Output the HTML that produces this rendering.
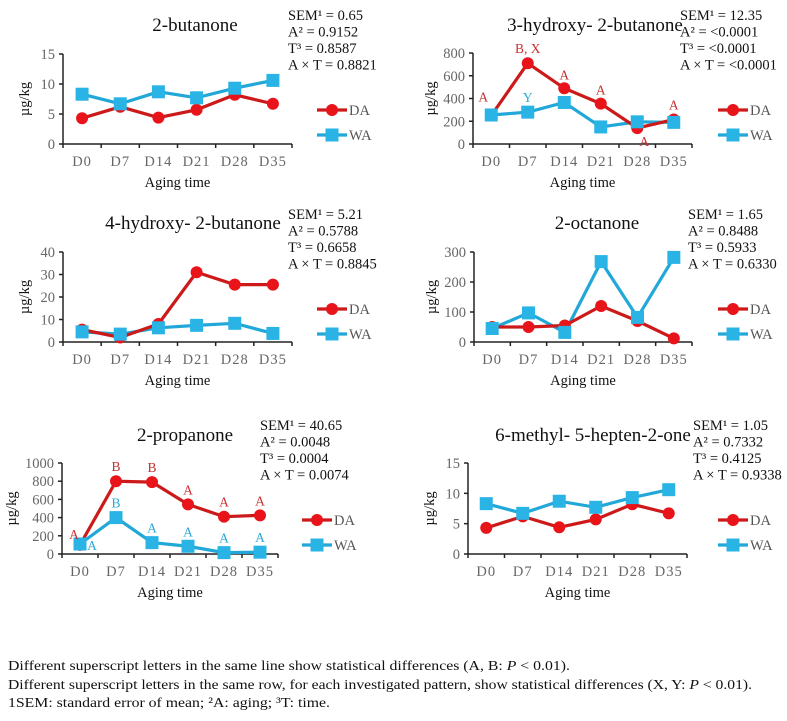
<!DOCTYPE html>
<html><head><meta charset="utf-8"><style>
body{margin:0;background:#fff;width:787px;height:721px;overflow:hidden}
svg{display:block;font-family:"Liberation Serif",serif}
</style></head><body>
<svg id="chart" width="787" height="721" viewBox="0 0 787 721">
<g id="panels"></g>
<g font-size="14" fill="#111">
<text x="8" y="670" textLength="562" lengthAdjust="spacingAndGlyphs">Different superscript letters in the same line show statistical differences (A, B: <tspan font-style="italic">P</tspan> &lt; 0.01).</text>
<text x="8" y="689" textLength="744" lengthAdjust="spacingAndGlyphs">Different superscript letters in the same row, for each investigated pattern, show statistical differences (X, Y: <tspan font-style="italic">P</tspan> &lt; 0.01).</text>
<text x="8" y="707" textLength="322" lengthAdjust="spacingAndGlyphs">1SEM: standard error of mean; ²A: aging; ³T: time.</text>
</g>
</svg>
<script>
const categories = ["D0","D7","D14","D21","D28","D35"];
const p1DA = [4.3,6.2,4.4,5.7,8.2,6.7];
const p1WA = [8.3,6.7,8.7,7.7,9.3,10.6];
const p2DA = [250,710,490,355,140,215];
const p2WA = [255,280,365,150,195,190];
const p3DA = [5.5,2,8,31,25.5,25.5];
const p3WA = [4.5,3.5,6.3,7.4,8.3,3.8];
const p4DA = [50,50,55,120,70,12];
const p4WA = [45,97,32,268,82,282];
const p5DA = [100,800,790,545,410,425];
const p5WA = [110,400,125,85,15,20];
const p6DA = [4.3,6.2,4.4,5.7,8.2,6.7];
const p6WA = [8.3,6.7,8.7,7.7,9.3,10.6];
const ticks15 = [0,5,10,15];
const ticks800 = [0,200,400,600,800];
const ticks40 = [0,10,20,30,40];
const ticks300 = [0,100,200,300];
const ticks1000 = [0,200,400,600,800,1000];
const stats1 = ["SEM¹ = 0.65","A² = 0.9152","T³ = 0.8587","A × T = 0.8821"];
const stats2 = ["SEM¹ = 12.35","A² = <0.0001","T³ = <0.0001","A × T = <0.0001"];
const stats3 = ["SEM¹ = 5.21","A² = 0.5788","T³ = 0.6658","A × T = 0.8845"];
const stats4 = ["SEM¹ = 1.65","A² = 0.8488","T³ = 0.5933","A × T = 0.6330"];
const stats5 = ["SEM¹ = 40.65","A² = 0.0048","T³ = 0.0004","A × T = 0.0074"];
const stats6 = ["SEM¹ = 1.05","A² = 0.7332","T³ = 0.4125","A × T = 0.9338"];
const letters2DA = ["A","B, X","A","A","A","A"];
const letters2WA = ["","Y","","","",""];
const letters5DA = ["A","B","B","A","A","A"];
const letters5WA = ["A","B","A","A","A","A"];

const NS="http://www.w3.org/2000/svg";
const root=document.getElementById('panels');
function mk(tag,attrs,parent,text){const e=document.createElementNS(NS,tag);for(const k in attrs)e.setAttribute(k,attrs[k]);if(text!==undefined)e.textContent=text;parent.appendChild(e);return e;}
const RED="#cc1a1a", REDM="#e8141a", BLUE="#22a8d8", BLUEM="#2ab4e6";

function panel(cfg){
  const g=mk('g',{},root);
  
  
  const xL=cfg.x0,xR=cfg.x1,yT=cfg.yTop,yB=cfg.yBot,ymax=cfg.ticks[cfg.ticks.length-1];
  const step=(xR-xL)/categories.length;
  const xs=i=>xL+step*(i+0.5);
  const ys=v=>yB-(v/ymax)*(yB-yT);
  const t=mk('text',{x:cfg.tx,y:cfg.ty,'font-size':19,'text-anchor':'middle',fill:'#111'},g,cfg.title);
  
  
  cfg.stats.forEach((s,i)=>{const e=mk('text',{x:cfg.sx,y:cfg.sy+i*16.5,'font-size':14.5,fill:'#111'},g,s);
    
    });
  const ax=mk('g',{stroke:'#222','stroke-width':1.5},g);
  
  
  mk('line',{x1:xL,y1:yT,x2:xL,y2:yB},ax);
  mk('line',{x1:xL,y1:yB,x2:xR,y2:yB},ax);
  cfg.ticks.forEach(v=>{mk('line',{x1:xL-4,y1:ys(v),x2:xL,y2:ys(v)},ax);
    const e=mk('text',{x:xL-8,y:ys(v)+5,'font-size':14.5,'text-anchor':'end',fill:'#666',stroke:'none'},g,String(v));
    
    });
  for(let i=0;i<=categories.length;i++){mk('line',{x1:xL+step*i,y1:yB,x2:xL+step*i,y2:yB+4},ax);}
  categories.forEach((c,i)=>{const e=mk('text',{x:xs(i),y:cfg.lblY,'font-size':14.5,'text-anchor':'middle',fill:'#666','letter-spacing':'1'},g,c);
    
    });
  const xt=mk('text',{x:(xL+xR)/2,y:cfg.lblY+21,'font-size':14.5,'text-anchor':'middle',fill:'#111'},g,'Aging time');
  
  
  const yto=cfg.yto||34;
  const yt=mk('text',{x:0,y:0,'font-size':14.5,'text-anchor':'middle',fill:'#111',transform:`translate(${xL-yto},${(yT+yB)/2}) rotate(-90)`},g,'µg/kg');
  
  
  const wa=mk('polyline',{points:cfg.wa.map((v,i)=>xs(i)+','+ys(v)).join(' '),fill:'none',stroke:BLUE,'stroke-width':3.2},g);
  
  
  const da=mk('polyline',{points:cfg.da.map((v,i)=>xs(i)+','+ys(v)).join(' '),fill:'none',stroke:RED,'stroke-width':3.2},g);
  
  
  cfg.da.forEach((v,i)=>{const c=mk('circle',{cx:xs(i),cy:ys(v),r:6,fill:REDM},g);
    
    });
  cfg.wa.forEach((v,i)=>{const r=mk('rect',{x:xs(i)-6.5,y:ys(v)-6.5,width:13,height:13,fill:BLUEM},g);
    
    });
  if(cfg.ldaLetters){cfg.ldaLetters.forEach((l,i)=>{if(!l)return;const off=cfg.ldaOff?cfg.ldaOff[i]:[0,-9];
    const e=mk('text',{x:xs(i)+off[0],y:ys(cfg.da[i])+off[1],'font-size':13.5,'text-anchor':'middle',fill:'#c83030'},g,l);
    
    });}
  if(cfg.lwaLetters){cfg.lwaLetters.forEach((l,i)=>{if(!l)return;const off=cfg.lwaOff?cfg.lwaOff[i]:[0,-10];
    const e=mk('text',{x:xs(i)+off[0],y:ys(cfg.wa[i])+off[1],'font-size':13.5,'text-anchor':'middle',fill:'#2aa8d8'},g,l);
    
    });}
  const lg=mk('g',{},g);
  
  
  const lx=cfg.lx;
  mk('line',{x1:lx,y1:cfg.ly,x2:lx+30,y2:cfg.ly,stroke:RED,'stroke-width':3.2},lg);
  mk('circle',{cx:lx+15,cy:cfg.ly,r:6,fill:REDM},lg);
  mk('text',{x:lx+32,y:cfg.ly+5,'font-size':14.5,fill:'#555'},lg,'DA');
  mk('line',{x1:lx,y1:cfg.ly+25,x2:lx+30,y2:cfg.ly+25,stroke:BLUE,'stroke-width':3.2},lg);
  mk('rect',{x:lx+8.5,y:cfg.ly+18.5,width:13,height:13,fill:BLUEM},lg);
  mk('text',{x:lx+32,y:cfg.ly+30,'font-size':14.5,fill:'#555'},lg,'WA');
}
panel({name:'panel-2-butanone',title:'2-butanone',tx:195,ty:31,sx:288,sy:20,stats:stats1,x0:63,x1:292,yTop:54,yBot:144,ticks:ticks15,da:p1DA,wa:p1WA,lblY:166,lx:317,ly:110});
panel({name:'panel-3-hydroxy-2-butanone',title:'3-hydroxy- 2-butanone',tx:595,ty:31,sx:680,sy:20,stats:stats2,x0:473,x1:692,yTop:53,yBot:144,ticks:ticks800,da:p2DA,wa:p2WA,lblY:166,lx:718,ly:110,yto:38,
  ldaLetters:letters2DA,ldaOff:[[-8,-14],[0,-10],[0,-9],[0,-9],[7,18],[0,-10]],lwaLetters:letters2WA});
panel({name:'panel-4-hydroxy-2-butanone',title:'4-hydroxy- 2-butanone',tx:193,ty:229,sx:288,sy:219,stats:stats3,x0:63,x1:292,yTop:252,yBot:342,ticks:ticks40,da:p3DA,wa:p3WA,lblY:364,lx:317,ly:309});
panel({name:'panel-2-octanone',title:'2-octanone',tx:597,ty:229,sx:688,sy:219,stats:stats4,x0:474,x1:692,yTop:252,yBot:342,ticks:ticks300,da:p4DA,wa:p4WA,lblY:364,lx:718,ly:309,yto:38});
panel({name:'panel-2-propanone',title:'2-propanone',tx:185,ty:441,sx:260,sy:430,stats:stats5,x0:62,x1:278,yTop:463,yBot:554,ticks:ticks1000,da:p5DA,wa:p5WA,lblY:576,lx:302,ly:520,yto:46,
  ldaLetters:letters5DA,ldaOff:[[-6,-6],[0,-10],[0,-10],[0,-10],[0,-10],[0,-10]],lwaLetters:letters5WA,lwaOff:[[12,6],[0,-10],[0,-10],[0,-10],[0,-10],[0,-10]]});
panel({name:'panel-6-methyl-5-hepten-2-one',title:'6-methyl- 5-hepten-2-one',tx:593,ty:441,sx:693,sy:430,stats:stats6,x0:468,x1:687,yTop:463,yBot:554,ticks:ticks15,da:p6DA,wa:p6WA,lblY:576,lx:718,ly:520});
</script>
</body></html>
